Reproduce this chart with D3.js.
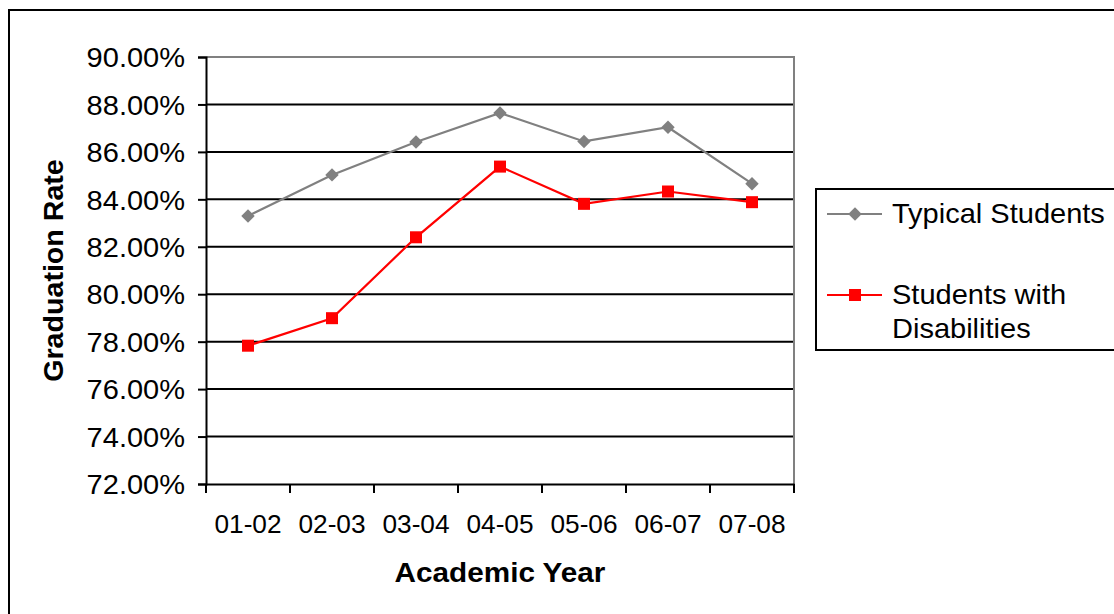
<!DOCTYPE html>
<html>
<head>
<meta charset="utf-8">
<script src="https://cdn.jsdelivr.net/npm/d3@7"></script>
<style>
  html, body { margin: 0; padding: 0; background: #fff; }
  svg { display: block; }
  text { font-family: "Liberation Sans", Arial, sans-serif; fill: #000; }
</style>
</head>
<body>
<svg id="chart" width="1114" height="614"></svg>
<script>
// Academic years on the x axis
const years = ["01-02", "02-03", "03-04", "04-05", "05-06", "06-07", "07-08"];
// Graduation rates (%)
const typicalStudents = [83.30, 85.03, 86.42, 87.64, 86.44, 87.04, 84.66];
const studentsWithDisabilities = [77.83, 78.99, 82.40, 85.38, 83.81, 84.33, 83.88];
// Y axis ticks
const yTicks = [72, 74, 76, 78, 80, 82, 84, 86, 88, 90];

const svg = d3.select("#chart");
const plot = { left: 206, right: 794, top: 57, bottom: 484 };
const FONT = "Liberation Sans, Arial, sans-serif";
// Text in this chart is set slightly wide
const WIDE = 1.075;

// Outer chart frame
svg.append("rect")
  .attr("x", 9).attr("y", 10).attr("width", 1120).attr("height", 620)
  .attr("fill", "#fff").attr("stroke", "#000").attr("stroke-width", 2);

const x = d3.scaleBand().domain(years).range([plot.left, plot.right]);
const y = d3.scaleLinear().domain([72, 90]).range([plot.bottom, plot.top]);

// Horizontal gridlines
svg.append("g").selectAll("line")
  .data(yTicks.filter(t => t > 72 && t < 90))
  .join("line")
  .attr("x1", plot.left).attr("x2", plot.right)
  .attr("y1", d => y(d)).attr("y2", d => y(d))
  .attr("stroke", "#000").attr("stroke-width", 2);

// Plot area border (top and right in gray)
svg.append("path")
  .attr("d", `M${plot.left},${plot.top}H${plot.right}V${plot.bottom}`)
  .attr("fill", "none").attr("stroke", "#808080").attr("stroke-width", 2);

// Y axis
const yAxis = d3.axisLeft(y).tickValues(yTicks).tickSize(8).tickPadding(13)
  .tickFormat(d => d.toFixed(2) + "%");
const gy = svg.append("g").attr("transform", `translate(${plot.left},0)`).call(yAxis);
gy.select(".domain").attr("stroke", "#000").attr("stroke-width", 2);
gy.selectAll(".tick line").attr("stroke", "#000").attr("stroke-width", 2);
gy.selectAll(".tick text")
  .attr("font-size", 27).attr("font-family", FONT).attr("fill", "#000")
  .attr("x", -21 / WIDE).attr("transform", `scale(${WIDE},1)`)
  .attr("dy", "0.36em");

// X axis: ticks at category boundaries
const xAxis = d3.axisBottom(x).tickSize(0).tickPadding(31);
const gx = svg.append("g").attr("transform", `translate(0,${plot.bottom})`).call(xAxis);
gx.select(".domain").attr("stroke", "#000").attr("stroke-width", 2);
gx.selectAll(".tick text")
  .attr("font-size", 25).attr("font-family", FONT).attr("fill", "#000")
  .attr("transform", "scale(1.05,1)");
const boundaries = years.map(d => x(d)).concat([x(years[years.length - 1]) + x.bandwidth()]);
svg.append("g").selectAll("line")
  .data(boundaries).join("line")
  .attr("x1", d => d).attr("x2", d => d)
  .attr("y1", plot.bottom).attr("y2", plot.bottom + 9)
  .attr("stroke", "#000").attr("stroke-width", 2);

// Axis titles
svg.append("text")
  .attr("transform", `translate(${(plot.left + plot.right) / 2},582) scale(1.1,1)`)
  .attr("text-anchor", "middle").attr("font-weight", "bold").attr("font-size", 27)
  .text("Academic Year");
svg.append("text")
  .attr("transform", `translate(63,${(plot.top + plot.bottom) / 2}) rotate(-90) scale(1.06,1)`)
  .attr("text-anchor", "middle").attr("font-weight", "bold").attr("font-size", 27)
  .text("Graduation Rate");

const cx = d => x(d) + x.bandwidth() / 2;
const line = d3.line().x((d, i) => cx(years[i])).y(d => y(d));
const diamond = d3.symbol(d3.symbolDiamond2, 115)();

// Typical students series
svg.append("path").datum(typicalStudents)
  .attr("d", line).attr("fill", "none").attr("stroke", "#808080").attr("stroke-width", 2.2);
svg.append("g").selectAll("path")
  .data(typicalStudents).join("path")
  .attr("d", diamond)
  .attr("transform", (d, i) => `translate(${cx(years[i])},${y(d)})`)
  .attr("fill", "#808080");

// Students with disabilities series
svg.append("path").datum(studentsWithDisabilities)
  .attr("d", line).attr("fill", "none").attr("stroke", "#ff0000").attr("stroke-width", 2.2);
svg.append("g").selectAll("rect")
  .data(studentsWithDisabilities).join("rect")
  .attr("x", (d, i) => cx(years[i]) - 6).attr("y", d => y(d) - 6)
  .attr("width", 12).attr("height", 12)
  .attr("fill", "#ff0000");

// Legend
const legend = svg.append("g");
legend.append("rect")
  .attr("x", 816).attr("y", 189).attr("width", 320).attr("height", 161)
  .attr("fill", "#fff").attr("stroke", "#000").attr("stroke-width", 2);
const legendItems = [
  { name: ["Typical Students"], color: "#808080", shape: "diamond", ly: 214 },
  { name: ["Students with", "Disabilities"], color: "#ff0000", shape: "square", ly: 295 }
];
legendItems.forEach(item => {
  legend.append("line")
    .attr("x1", 827).attr("x2", 882).attr("y1", item.ly).attr("y2", item.ly)
    .attr("stroke", item.color).attr("stroke-width", 2);
  if (item.shape === "diamond") {
    legend.append("path")
      .attr("d", diamond)
      .attr("transform", `translate(855,${item.ly})`)
      .attr("fill", item.color);
  } else {
    legend.append("rect")
      .attr("x", 849).attr("y", item.ly - 6).attr("width", 12).attr("height", 12)
      .attr("fill", item.color);
  }
  item.name.forEach((t, k) => {
    legend.append("text")
      .attr("transform", `translate(892,${item.ly + 9 + k * 34}) scale(${WIDE},1)`)
      .attr("font-size", 27).text(t);
  });
});
</script>
</body>
</html>
